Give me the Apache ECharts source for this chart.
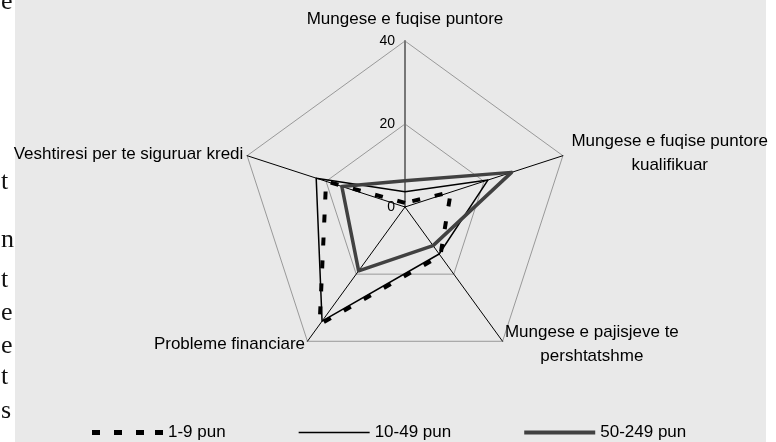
<!DOCTYPE html>
<html>
<head>
<meta charset="utf-8">
<script src="https://cdn.jsdelivr.net/npm/echarts@6/dist/echarts.min.js"></script>
<style>
html, body { margin: 0; padding: 0; background: #fff; }
#radar { width: 776px; height: 442px; }
</style>
</head>
<body>
<div id="radar"></div>
<script>
// indicators in echarts order: top first, then counter-clockwise
const indicators = [
    'Mungese e fuqise puntore',
    'Veshtiresi per te siguruar kredi',
    'Probleme financiare',
    'Mungese e pajisjeve te\npershtatshme',
    'Mungese e fuqise puntore\nkualifikuar'
];
const seriesNames = ['1-9 pun', '10-49 pun', '50-249 pun'];
const small = [1, 20, 35, 14.5, 11.6];
const medium = [3.7, 22.5, 34, 14, 21];
const large = [6.3, 16, 19, 11.5, 27];
const radarMax = 40;

// bits of the page text that sit left of the chart
const sideLetters = ['e', 't', 'n', 't', 'e', 'e', 't', 's'];
const sideY = [3, 183, 241, 281, 314, 347, 378, 412];

const font = 'Liberation Sans, Arial, sans-serif';
const nameGaps = [10, 4, 4, 4, 9];

let myChart = echarts.init(document.getElementById('radar'));

myChart.setOption({
    backgroundColor: '#fff',
    animation: false,
    graphic: sideLetters.map((ch, i) => ({
        type: 'text',
        z: -2,
        x: 1,
        y: sideY[i] - 14,
        style: { text: ch, font: '26px Liberation Serif, serif', fill: '#111' }
    })).concat([{
        type: 'rect',
        z: -1,
        shape: { x: 15, y: 0, width: 751, height: 442 },
        style: { fill: '#e9e9e9' }
    }]),
    legend: {
        left: 87,
        top: 419,
        itemWidth: 71,
        itemHeight: 5,
        itemGap: 73,
        textStyle: { fontSize: 17, color: '#000', fontFamily: font },
        data: [
            { name: seriesNames[0], icon: 'path://M0,0h8v5h-8z M22,0h8v5h-8z M44,0h8v5h-8z M63,0h8v5h-8z' },
            { name: seriesNames[1], icon: 'path://M0,0h71v1.6h-71z' },
            { name: seriesNames[2], icon: 'path://M0,0h71v4h-71z' }
        ]
    },
    radar: {
        center: [405, 207],
        radius: 166,
        splitNumber: 2,
        shape: 'polygon',
        indicator: indicators.map((name, i) => {
            let ind = { name: name, min: 0, max: radarMax, nameGap: nameGaps[i] };
            if (i === 0) {
                ind.axisLine = { lineStyle: { color: '#777', width: 2 } };
                ind.axisLabel = { show: true, fontSize: 14, color: '#000', fontFamily: font, margin: 10, padding: [6, 0, 0, 0] };
            }
            return ind;
        }),
        axisName: {
            color: '#000',
            fontSize: 17,
            fontFamily: font,
            formatter: function (name) {
                return name.split('\n').map(s => '{c|' + s + '}').join('\n');
            },
            rich: {
                c: { align: 'center', fontSize: 17, lineHeight: 24, color: '#000', fontFamily: font }
            }
        },
        axisLine: { lineStyle: { color: '#000', width: 1 } },
        axisTick: { show: false },
        axisLabel: { show: false },
        splitLine: { lineStyle: { color: '#999', width: 1 } },
        splitArea: { show: false }
    },
    series: [{
        name: seriesNames[0],
        type: 'radar',
        symbol: 'none',
        z: 3,
        itemStyle: { color: '#000' },
        lineStyle: { color: '#000', width: 4, type: [8, 15] },
        data: [{ name: seriesNames[0], value: small }]
    }, {
        name: seriesNames[1],
        type: 'radar',
        symbol: 'none',
        itemStyle: { color: '#000' },
        lineStyle: { color: '#000', width: 1.5 },
        data: [{ name: seriesNames[1], value: medium }]
    }, {
        name: seriesNames[2],
        type: 'radar',
        symbol: 'none',
        itemStyle: { color: '#414141' },
        lineStyle: { color: '#414141', width: 3.5 },
        data: [{ name: seriesNames[2], value: large }]
    }]
});
</script>
</body>
</html>
